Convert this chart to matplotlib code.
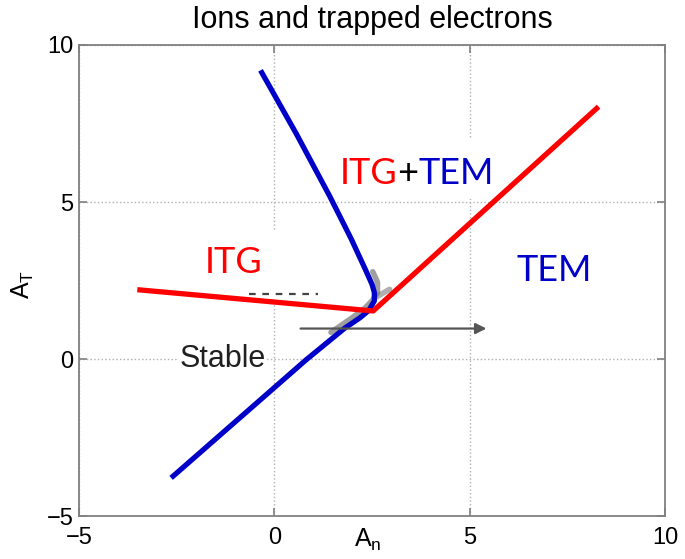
import matplotlib
matplotlib.use("Agg")
import matplotlib.pyplot as plt
from matplotlib.patches import Rectangle
from matplotlib.offsetbox import TextArea, HPacker, AnnotationBbox

# ---- data ----
blue_x = [-2.59, 0.81, 1.80, 2.20, 2.42, 2.56, 2.56, 2.50, 2.32, 1.97, 1.42, 0.56, -0.32]
blue_y = [-3.73, -0.03, 0.98, 1.32, 1.55, 1.85, 2.12, 2.38, 2.88, 3.82, 5.18, 7.18, 9.12]
red_x = [-3.44, 2.53, 8.25]
red_y = [2.20, 1.53, 7.98]
shadow_x = [1.45, 2.0, 2.32, 2.52, 2.64, 2.64, 2.52]
shadow_y = [0.85, 1.32, 1.62, 1.88, 2.12, 2.45, 2.78]
shadow2_x = [2.62, 2.95]
shadow2_y = [1.98, 2.22]
dash_x = [-0.64, 1.12]
dash_y = [2.07, 2.07]
arrow_start = (0.6, 0.97)
arrow_end = (5.5, 0.97)
ticks = [-5, 0, 5, 10]
tick_labels = ['\u22125', '0', '5', '10']

TICKFONT = ['Liberation Sans', 'DejaVu Sans']
LABFONT = ['Lato', 'DejaVu Sans']
BLUE = '#0000C8'
RED = '#FF0000'

fig = plt.figure(figsize=(6.85, 5.59), dpi=100)
ax = fig.add_axes([0.1153, 0.0769, 0.8555, 0.8426])
ax.set_xlim(-5, 10)
ax.set_ylim(-5, 10)
ax.set_xticks(ticks)
ax.set_yticks(ticks)
ax.set_xticklabels(tick_labels, family=TICKFONT, fontsize=17)
ax.set_yticklabels(tick_labels, family=TICKFONT, fontsize=17)
ax.tick_params(direction='in', top=True, right=True, length=6, color='#808080', width=1.2)
ax.tick_params(axis='x', pad=8)
ax.tick_params(axis='y', pad=4)
for s in ax.spines.values():
    s.set_color('#808080')
    s.set_linewidth(1.3)
ax.grid(True, linestyle=':', color='#b0b0b0', linewidth=1.0, zorder=0)
ax.set_axisbelow(True)

# white boxes hiding grid behind overlay labels
for (x0, y0, w, h) in [(-2.08, 1.72, 3.6, 2.39), (1.37, 5.08, 4.66, 1.96), (-2.49, -0.45, 2.3, 0.9)]:
    ax.add_patch(Rectangle((x0, y0), w, h, facecolor='white', edgecolor='none', zorder=1))

# faint gray halo of the underlying curve
ax.plot(shadow_x, shadow_y, color='#606060', lw=4, alpha=0.6, solid_capstyle='round', zorder=2)
ax.plot(shadow2_x, shadow2_y, color='#606060', lw=4, alpha=0.5, solid_capstyle='round', zorder=2)
ax.plot(dash_x, dash_y, color='#444444', lw=1.6, linestyle=(0, (3, 3)), zorder=2)

ax.plot(blue_x, blue_y, color=BLUE, lw=3.8, zorder=3, solid_joinstyle='round')
ax.plot(red_x, red_y, color=RED, lw=3.8, zorder=4)

ax.annotate('', xy=arrow_end, xytext=arrow_start,
            arrowprops=dict(arrowstyle='-|>', color='#555555', lw=1.6, mutation_scale=16),
            zorder=5)

ax.set_title('Ions and trapped electrons', family=TICKFONT, fontsize=22, pad=12)

# axis labels
ax.text(0.492, -0.022, r'A$_\mathregular{n}$', transform=ax.transAxes, ha='center', va='top',
        family=TICKFONT, fontsize=18)
fig.text(0.033, 0.492, r'A$_\mathregular{T}$', rotation=90, ha='center', va='center',
         family=TICKFONT, fontsize=18)

# region labels
ax.text(-1.05, 3.06, 'ITG', color=RED, family=LABFONT, fontsize=26, ha='center', va='center', zorder=6)
ax.text(7.16, 2.82, 'TEM', color=BLUE, family=LABFONT, fontsize=26, ha='center', va='center', zorder=6)
ax.text(-1.31, 0.0, 'Stable', color='#202020', family=TICKFONT, fontsize=22, ha='center', va='center', zorder=6)

parts = [TextArea(s, textprops=dict(color=c, family=LABFONT, fontsize=26)) for s, c in
         [('ITG', RED), ('+', '#000000'), ('TEM', BLUE)]]
pack = HPacker(children=parts, align='baseline', pad=0, sep=0)
ab = AnnotationBbox(pack, (3.65, 5.92), xycoords='data', frameon=False, box_alignment=(0.5, 0.5), zorder=6)
ax.add_artist(ab)

fig.savefig('out.png', dpi=100)
